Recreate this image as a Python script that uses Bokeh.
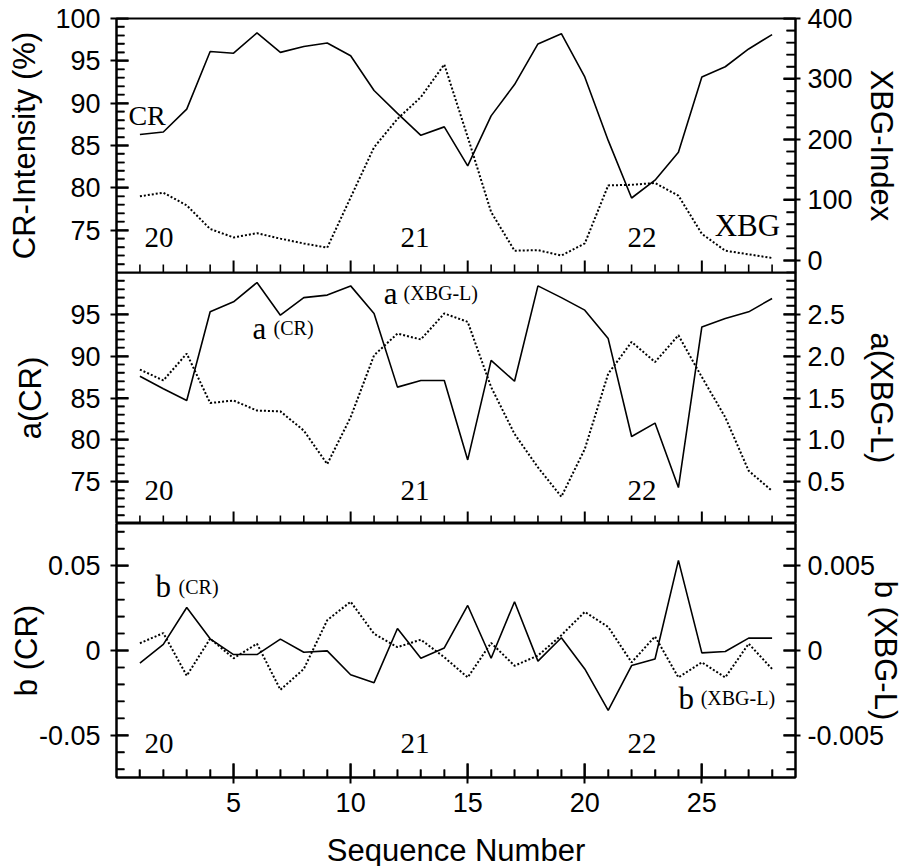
import math
from bokeh.plotting import figure
from bokeh.models import (Range1d, LinearAxis, FixedTicker, Label,
                          CustomJSTickFormatter, PrintfTickFormatter)
from bokeh.layouts import column
from bokeh.embed import file_html
from bokeh.resources import INLINE

# ---------------- data ----------------
seq = list(range(1, 29))

cr_intensity = [86.3, 86.6, 89.3, 96.1, 95.9, 98.3, 96.0, 96.7, 97.1, 95.6,
                91.5, 88.8, 86.2, 87.2, 82.6, 88.5, 92.2, 97.0, 98.2, 93.1,
                85.6, 78.8, 80.9, 84.2, 93.1, 94.3, 96.4, 98.1]
xbg_index = [106, 112, 91, 52, 38, 45, 36, 28, 21, 104,
             187, 234, 270, 324, 204, 80, 16, 17, 8, 28,
             124, 125, 128, 107, 44, 16, 10, 4]

a_cr = [87.6, 86.1, 84.7, 95.3, 96.5, 98.8, 94.9, 97.0, 97.3, 98.4,
        95.1, 86.3, 87.1, 87.1, 77.6, 89.5, 87.0, 98.4, 97.0, 95.5,
        92.1, 80.4, 82.0, 74.3, 93.5, 94.5, 95.3, 96.9]
a_xbg = [1.84, 1.71, 2.03, 1.44, 1.47, 1.35, 1.34, 1.11, 0.71, 1.27,
         2.01, 2.27, 2.20, 2.51, 2.41, 1.63, 1.07, 0.67, 0.32, 0.89,
         1.79, 2.17, 1.93, 2.25, 1.75, 1.27, 0.63, 0.39]

b_cr = [-0.0075, 0.0036, 0.0254, 0.0069, -0.0024, -0.0024, 0.0067, -0.0010,
        -0.0002, -0.0143, -0.0190, 0.0130, -0.0046, 0.0015, 0.0266, -0.0046,
        0.0288, -0.0063, 0.0075, -0.0109, -0.0353, -0.0089, -0.0050, 0.0532,
        -0.0014, -0.0006, 0.0073, 0.0073]
b_xbg = [0.00043, 0.00103, -0.00149, 0.00070, -0.00046, 0.00040, -0.00232,
         -0.00109, 0.00179, 0.00288, 0.00099, 0.00020, 0.00064, -0.00040,
         -0.00159, 0.00045, -0.00090, -0.00030, 0.00090, 0.00228, 0.00139,
         -0.00070, 0.00083, -0.00159, -0.00070, -0.00159, 0.00040, -0.00109]

# tick values
x_major = [5, 10, 15, 20, 25]
x_minor = [i for i in range(1, 29) if i % 5 != 0]
cr_major = [75, 80, 85, 90, 95, 100]
a_major = [75, 80, 85, 90, 95]
pct_minor = [i for i in range(71, 100) if i % 5 != 0]
xbg_major = [0, 100, 200, 300, 400]
xbg_minor = [v for v in range(-20, 400, 20) if v % 100 != 0]
axbg_major = [0.5, 1.0, 1.5, 2.0, 2.5]
axbg_minor = [i / 10 for i in range(1, 30) if i % 5 != 0]
bcr_major = [-0.05, 0, 0.05]
bcr_minor = [i / 100 for i in range(-7, 8) if i % 5 != 0]
bxbg_major = [-0.005, 0, 0.005]
bxbg_minor = [i / 1000 for i in range(-7, 8) if i % 5 != 0]

SANS = "Liberation Sans"
SERIF = "Liberation Serif"
TICK_FS = "27px"
LAB_FS = "31px"
X0, X1 = 0, 29

num_fmt = CustomJSTickFormatter(code="return String(Math.round(tick*1e6)/1e6);")


def base_fig(yr, fh, top, bottom, margin):
    p = figure(x_range=Range1d(X0, X1), y_range=Range1d(*yr),
               frame_width=679, frame_height=fh,
               min_border_left=116, min_border_right=107,
               min_border_top=top, min_border_bottom=bottom,
               x_axis_location=None, y_axis_location=None,
               output_backend="svg", toolbar_location=None, tools="",
               margin=margin)
    p.grid.visible = False
    p.outline_line_color = "black"
    p.outline_line_width = 2
    p.background_fill_alpha = 0
    p.border_fill_alpha = 0
    return p


def style(ax):
    ax.axis_line_width = 2
    ax.axis_line_color = "black"
    ax.major_tick_line_width = 2
    ax.major_tick_line_color = "black"
    ax.minor_tick_line_width = 1.6
    ax.minor_tick_line_color = "black"
    ax.major_label_text_font = SANS
    ax.major_label_text_font_size = TICK_FS
    ax.axis_label_text_font = SANS
    ax.axis_label_text_font_size = LAB_FS
    ax.axis_label_text_font_style = "normal"
    ax.axis_label_text_color = "black"
    ax.major_label_text_color = "black"


def tick_marks(p, xs, ys, size, angle, width, rname="default"):
    kw = {} if rname == "default" else {"y_range_name": rname}
    p.scatter(x=xs, y=ys, marker="dash", size=size, angle=angle,
              line_color="black", line_width=width, fill_color=None, **kw)


def left_axis(p, label, ticks, minor, standoff, fmt=None):
    ax = LinearAxis(ticker=FixedTicker(ticks=ticks, minor_ticks=minor),
                    axis_label=label)
    style(ax)
    ax.major_tick_in = 12
    ax.major_tick_out = 6
    ax.minor_tick_in = 8
    ax.minor_tick_out = 0
    ax.major_label_standoff = 10
    ax.axis_label_standoff = standoff
    if fmt is not None:
        ax.formatter = fmt
    p.add_layout(ax, "left")
    tick_marks(p, [X0] * len(ticks), ticks, 24, 0, 2)
    tick_marks(p, [X0] * len(minor), minor, 16, 0, 1.6)


def right_axis(p, name, label, ticks, minor, standoff, fmt=None):
    ax = LinearAxis(y_range_name=name,
                    ticker=FixedTicker(ticks=ticks, minor_ticks=minor),
                    axis_label=label)
    style(ax)
    ax.major_tick_in = 12
    ax.major_tick_out = 5
    ax.minor_tick_in = 9
    ax.minor_tick_out = 0
    ax.major_label_standoff = 7
    ax.axis_label_standoff = standoff
    if fmt is not None:
        ax.formatter = fmt
    p.add_layout(ax, "right")
    tick_marks(p, [X1] * len(ticks), ticks, 24, 0, 2, name)
    tick_marks(p, [X1] * len(minor), minor, 18, 0, 1.6, name)


def bottom_marks(p, ybase, major_size):
    tick_marks(p, x_major, [ybase] * len(x_major), major_size, math.pi / 2, 2)
    tick_marks(p, x_minor, [ybase] * len(x_minor), 16, math.pi / 2, 1.6)


def lines(p, y1, y2, rname):
    p.line(seq, y1, line_color="black", line_width=1.6)
    p.line(seq, y2, y_range_name=rname, line_color="black", line_width=2,
           line_dash="2 2")


def label(p, x, y, text, size, font=SERIF):
    p.add_layout(Label(x=x, y=y, text=text, text_font=font,
                       text_font_size=size, text_color="black",
                       text_baseline="alphabetic", text_align="left"))


# ---------------- panel 1 ----------------
p1 = base_fig((70, 100), 254, 18, 8, (0, 0, -8, 0))
p1.extra_y_ranges = {"r": Range1d(-20, 400)}
left_axis(p1, "CR-Intensity (%)", cr_major, pct_minor, 10)
right_axis(p1, "r", "XBG-Index", xbg_major, xbg_minor, 8)
bottom_marks(p1, 70, 24)
lines(p1, cr_intensity, xbg_index, "r")
label(p1, 0.51, 88.6, "CR", "28px")
label(p1, 25.55, 75.5, "XBG", "31px")
label(p1, 1.2, 74.1, "20", "29px")
label(p1, 12.13, 74.1, "21", "29px")
label(p1, 21.83, 74.1, "22", "29px")

# ---------------- panel 2 ----------------
p2 = base_fig((70, 100), 251, 0, 0, (0, 0, 0, 0))
p2.extra_y_ranges = {"r": Range1d(0, 3)}
left_axis(p2, "a(CR)", a_major, pct_minor, 19)
right_axis(p2, "r", "a(XBG-L)", axbg_major, axbg_minor, 16,
           PrintfTickFormatter(format="%.1f"))
bottom_marks(p2, 70, 24)
lines(p2, a_cr, a_xbg, "r")
label(p2, 5.81, 93.35, "a", "31px")
label(p2, 6.71, 93.35, "(CR)", "20px")
label(p2, 11.41, 97.5, "a", "31px")
label(p2, 12.26, 97.5, "(XBG-L)", "20px")
label(p2, 1.2, 73.9, "20", "29px")
label(p2, 12.13, 73.9, "21", "29px")
label(p2, 21.83, 73.9, "22", "29px")

# ---------------- panel 3 ----------------
p3 = base_fig((-0.075, 0.075), 254, 0, 88, (0, 0, 0, 0))
p3.extra_y_ranges = {"r": Range1d(-0.0075, 0.0075)}
left_axis(p3, "b (CR)", bcr_major, bcr_minor, -8, num_fmt)
right_axis(p3, "r", "b (XBG-L)", bxbg_major, bxbg_minor, -19, num_fmt)
bx = LinearAxis(ticker=FixedTicker(ticks=x_major, minor_ticks=x_minor),
                axis_label="Sequence Number")
style(bx)
bx.major_tick_in = 14
bx.major_tick_out = 6
bx.minor_tick_in = 8
bx.minor_tick_out = 0
bx.major_label_standoff = 9
bx.axis_label_standoff = 18
p3.add_layout(bx, "below")
bottom_marks(p3, -0.075, 28)
lines(p3, b_cr, b_xbg, "r")
label(p3, 1.67, 0.0377, "b", "31px")
label(p3, 2.65, 0.0377, "(CR)", "20px")
label(p3, 24.0, -0.0283, "b", "31px")
label(p3, 24.95, -0.0283, "(XBG-L)", "20px")
label(p3, 1.2, -0.0551, "20", "29px")
label(p3, 12.13, -0.0551, "21", "29px")
label(p3, 21.83, -0.0551, "22", "29px")

layout = column(p1, p2, p3, spacing=0)
open("out.html", "w").write(file_html(layout, INLINE))
